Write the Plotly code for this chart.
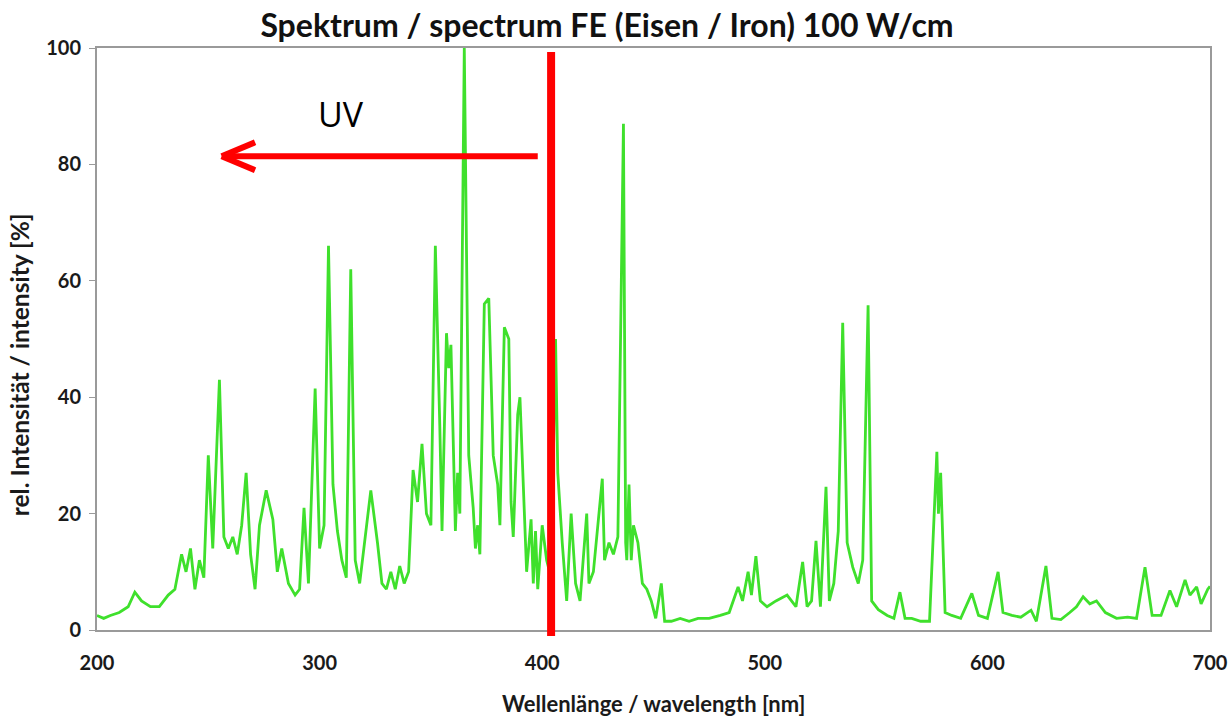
import plotly.graph_objects as go

# wavelength [nm] and relative intensity [%]
wavelength = [200, 203, 206, 210, 214, 217, 220, 224, 228, 232, 235, 238, 240, 242, 244, 246, 248,
              250, 252, 255, 257, 259, 261, 263, 265, 267, 269, 271, 273, 276, 279, 281, 283, 286,
              289, 291, 293, 295, 298, 300, 302, 304, 306, 308, 310, 312, 314, 316, 318, 320, 323,
              326, 328, 330, 332, 334, 336, 338, 340, 342, 344, 346, 348, 350, 352, 354, 355, 357,
              358, 359, 361, 362, 363, 365, 367, 369, 370, 371, 372, 374, 376, 378, 380, 381, 383,
              385, 386, 387, 389, 390, 392, 393, 395, 396, 397, 398, 400, 402, 404, 406, 407, 409,
              411, 413, 415, 417, 420, 421, 423, 427, 428, 430, 432, 434, 436.5, 437.5, 438, 439,
              440, 441, 443, 445, 447, 449, 451, 453.5, 455, 458, 462, 466, 470, 475, 480, 484,
              488, 490, 492.5, 494, 496, 498, 501, 505, 510, 514, 517, 519, 521, 523, 525, 527.5,
              529, 531, 533, 535, 537, 539.5, 542, 544, 546.4, 548, 551, 555, 558, 560.7, 563, 566,
              570, 574, 577.3, 578, 579, 581, 584, 588, 593, 596, 600, 604.8, 607, 611, 615, 619.6,
              622, 626.3, 629, 633, 637, 640, 643, 646, 649, 653, 658, 663, 667, 670.8, 674, 678,
              682, 685, 688.8, 691, 694, 696, 699, 700]
intensity = [2.5, 2, 2.5, 3, 4, 6.5, 5, 4, 4, 6, 7, 13, 10, 14, 7, 12, 9,
             30, 14, 43, 16, 14, 16, 13, 18, 27, 13, 7, 18, 24, 19, 10, 14, 8,
             6, 7, 21, 8, 41.5, 14, 18, 66, 25, 17, 12, 9, 62, 12, 8, 14, 24,
             15, 8, 7, 10, 7, 11, 8, 10, 27.5, 22, 32, 20, 18, 66, 35, 17, 51,
             45, 49, 17, 27, 20, 100, 30, 21, 14, 18, 13, 56, 57, 30, 25, 18, 52,
             50, 22, 16, 37, 40, 18, 10, 19, 8, 17, 7, 18, 12, 9, 50, 27, 15,
             5, 20, 8, 5, 20, 8, 10, 26, 12, 15, 13, 16, 87, 15, 12, 25,
             12, 18, 15, 8, 7, 5, 2, 8, 1.5, 1.5, 2, 1.5, 2, 2, 2.5, 3,
             7.4, 5, 10, 6, 12.7, 5, 4, 5, 6, 4, 11.7, 4, 5, 15.3, 4, 24.6,
             5, 8, 17, 52.8, 15, 10.8, 8, 12, 55.8, 5, 3.5, 2.5, 2, 6.5, 2, 2,
             1.5, 1.5, 30.6, 20, 27, 3, 2.5, 2, 6.3, 2.5, 2, 10, 3, 2.5, 2.2, 3.4,
             1.5, 11, 2, 1.8, 3, 4, 5.7, 4.5, 5, 3, 2, 2.2, 2, 10.8, 2.5, 2.5,
             6.8, 4, 8.6, 6, 7.4, 4.5, 7, 7.5]

x_ticks = [200, 300, 400, 500, 600, 700]
y_ticks = [0, 20, 40, 60, 80, 100]

UV_BOUNDARY = 404        # nm, red vertical line
ARROW_Y = 81.4           # %, red arrow level
ARROW_TAIL = 398         # nm
ARROW_TIP = 256          # nm
ARROW_HEAD_BACK = 271    # nm
ARROW_HEAD_SPREAD = 2.4  # %

fig = go.Figure()
fig.add_trace(go.Scatter(x=wavelength, y=intensity, mode="lines",
                         line=dict(color="#3fe02c", width=2.8), showlegend=False))

red = "#ff0000"
fig.add_shape(type="line", xref="x", yref="paper", x0=UV_BOUNDARY, x1=UV_BOUNDARY,
              y0=-0.0103, y1=0.993, line=dict(color=red, width=8))
fig.add_shape(type="line", xref="x", yref="y", x0=ARROW_TAIL, x1=ARROW_TIP + 1,
              y0=ARROW_Y, y1=ARROW_Y, line=dict(color=red, width=6))
for s in (1, -1):
    fig.add_shape(type="line", xref="x", yref="y", x0=ARROW_TIP, y0=ARROW_Y,
                  x1=ARROW_HEAD_BACK, y1=ARROW_Y + s * ARROW_HEAD_SPREAD,
                  line=dict(color=red, width=6))

fig.add_annotation(x=309.6, y=88.7, xref="x", yref="y", text="UV", showarrow=False,
                   font=dict(family="Open Sans, sans-serif", size=34, color="black"),
                   xanchor="center", yanchor="middle")

fig.add_annotation(x=0.5, y=-0.1271, xref="paper", yref="paper", showarrow=False,
                   text="<b>Wellenlänge / wavelength [nm]</b>",
                   font=dict(family="Lato, sans-serif", size=22, color="#1a1a1a"),
                   xanchor="center", yanchor="middle")
fig.add_annotation(x=-0.07, y=0.455, xref="paper", yref="paper", showarrow=False,
                   text="<b>rel. Intensität / intensity [%]</b>",
                   font=dict(family="Lato, sans-serif", size=24.5, color="#1a1a1a"),
                   textangle=-90, xanchor="center", yanchor="middle")

tick_font = dict(family="Lato, sans-serif", size=20, color="#1a1a1a")
fig.update_layout(
    width=1229, height=718,
    margin=dict(l=97, r=19, t=48, b=88, autoexpand=False),
    paper_bgcolor="white", plot_bgcolor="white",
    title=dict(text="<b>Spektrum / spectrum FE (Eisen / Iron) 100 W/cm</b>",
               x=0.4939, xanchor="center", y=0.9638, yanchor="middle",
               font=dict(family="Lato, sans-serif", size=32, color="#111111")),
    xaxis=dict(range=[200, 700], tickvals=x_ticks, ticktext=[f"<b>{v}</b>" for v in x_ticks],
               showgrid=False, zeroline=False, showline=True, linecolor="#9a9a9a", linewidth=2,
               mirror=True, ticks="", tickfont=tick_font, ticklabelstandoff=14,
               automargin=False),
    yaxis=dict(range=[0, 100], tickvals=y_ticks, ticktext=[f"<b>{v}</b>" for v in y_ticks],
               showgrid=False, zeroline=False, showline=True, linecolor="#9a9a9a", linewidth=2,
               mirror=True, ticks="outside", ticklen=6, tickcolor="#9a9a9a", tickfont=tick_font,
               ticklabelstandoff=4, automargin=False),
)

# remove the default 8px page margin so the figure fills the window exactly
fig.write_html("out.html", config={"displayModeBar": False},
               post_script="document.body.style.margin='0px';")
